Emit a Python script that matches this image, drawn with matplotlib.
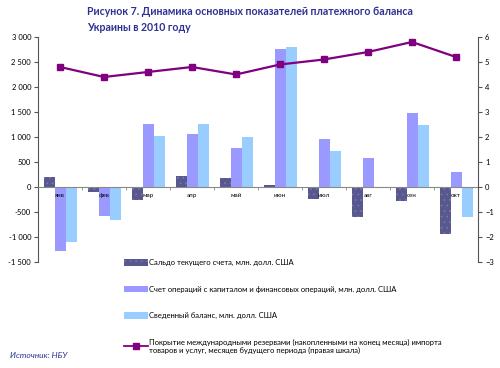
import numpy as np
import matplotlib
matplotlib.use('Agg')
import matplotlib.pyplot as plt
from matplotlib.ticker import FuncFormatter, FixedLocator
from matplotlib.patches import Patch
from matplotlib.lines import Line2D

plt.rcParams['font.family'] = ['Lato', 'DejaVu Sans']
plt.rcParams['hatch.linewidth'] = 0.6

months = ['янв', 'фев', 'мар', 'апр', 'май', 'июн', 'июл', 'авг', 'сен', 'окт']
# млн. долл. США
current_acc = [200, -100, -260, 220, 190, 50, -240, -590, -280, -930]
capital_acc = [-1270, -580, 1250, 1050, 770, 2750, 950, 590, 1470, 300]
overall_bal = [-1090, -660, 1020, 1260, 990, 2790, 720, 0, 1230, -590]
# месяцев импорта (правая шкала)
coverage = [4.8, 4.4, 4.6, 4.8, 4.5, 4.9, 5.1, 5.4, 5.8, 5.2]

lbl_cur = 'Сальдо текущего счета, млн. долл. США'
lbl_cap = 'Счет операций с капиталом и финансовых операций, млн. долл. США'
lbl_bal = 'Сведенный баланс, млн. долл. США'
lbl_cov = ('Покрытие международными резервами (накопленными на конец месяца) импорта\n'
           'товаров и услуг, месяцев будущего периода (правая шкала)')

c_dark = '#58588f'
c_dots = '#7676a8'
c_cap = '#9999ff'
c_bal = '#99ccff'
c_line = '#800080'
c_title = '#2e3192'

fig = plt.figure(figsize=(5, 3.68), dpi=100)
ax = fig.add_axes([0.076, 0.288, 0.88, 0.6115])
ax2 = ax.twinx()

x = np.arange(len(months))
w = 0.25
ax.bar(x - w, current_acc, w, color=c_dark, edgecolor=c_dots, linewidth=0, hatch='...')
ax.bar(x, capital_acc, w, color=c_cap, linewidth=0)
ax.bar(x + w, overall_bal, w, color=c_bal, linewidth=0)

ax2.plot(x, coverage, color=c_line, lw=1.6, marker='s', ms=5)

ax.set_xlim(-0.5, len(months) - 0.5)
ax.set_ylim(-1500, 3000)
ax.set_yticks(np.arange(-1500, 3001, 500))
ax.yaxis.set_major_formatter(FuncFormatter(lambda v, p: f'{int(v):,}'.replace(',', ' ')))
ax2.set_ylim(-3, 6)
ax2.set_yticks(np.arange(-3, 7, 1))

for a in (ax, ax2):
    a.spines['top'].set_visible(False)
    a.spines['bottom'].set_visible(False)
    a.spines['left'].set_linewidth(0.8)
    a.spines['right'].set_linewidth(0.8)
    a.spines['left'].set_color('#555555')
    a.spines['right'].set_color('#555555')
ax.spines['right'].set_visible(False)
ax2.spines['left'].set_visible(False)

ax.spines['bottom'].set_visible(True)
ax.spines['bottom'].set_position(('data', 0))
ax.spines['bottom'].set_color('#888888')
ax.spines['bottom'].set_linewidth(0.8)
ax.set_xticks(x)
ax.set_xticklabels(months, fontsize=4.5)
ax.xaxis.set_minor_locator(FixedLocator(np.arange(-0.5, len(months), 1)))
ax.tick_params(axis='x', which='major', length=0, pad=4)
ax.tick_params(axis='x', which='minor', length=2, color='#888888')
ax.tick_params(axis='y', labelsize=5.5, length=3, width=0.8, pad=2, color='#555555')
ax2.tick_params(axis='y', labelsize=5.5, length=3, width=0.8, pad=2, color='#555555')

fig.text(87 / 500, 1 - 19.5 / 368, 'Рисунок 7. Динамика основных показателей платежного баланса\n'
         'Украины в 2010 году', fontsize=7.6, fontweight='bold', color=c_title,
         va='center', ha='left', linespacing=1.45)
fig.text(10 / 500, 1 - 356 / 368, 'Источник: НБУ', fontsize=6, style='italic',
         color=c_title, va='center', ha='left')

handles = [Patch(facecolor=c_dark, edgecolor=c_dots, linewidth=0, hatch='...'),
           Patch(facecolor=c_cap),
           Patch(facecolor=c_bal),
           Line2D([], [], color=c_line, lw=1.3, marker='s', ms=4)]
fig.legend(handles, [lbl_cur, lbl_cap, lbl_bal, lbl_cov], loc='upper left',
           bbox_to_anchor=(124 / 500, 1 - 259 / 368), frameon=False, fontsize=5.5,
           handlelength=3.1, handleheight=0.9, handletextpad=0.2, labelspacing=2.55,
           borderaxespad=0, borderpad=0)

fig.savefig('out.png', dpi=100)
